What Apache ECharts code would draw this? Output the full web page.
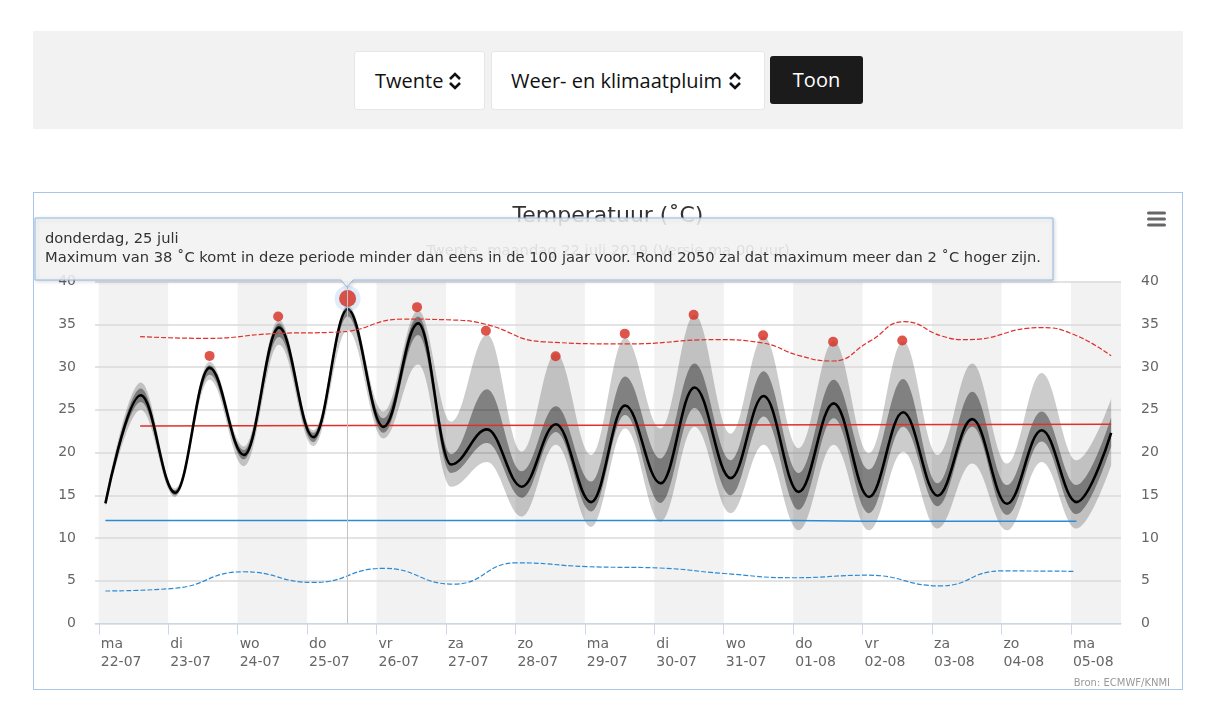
<!DOCTYPE html>
<html><head><meta charset="utf-8">
<script src="https://cdn.jsdelivr.net/npm/echarts@6/dist/echarts.min.js"></script>
<style>
html,body{margin:0;padding:0;background:#fff;width:1214px;height:718px;overflow:hidden;font-family:"Open Sans",sans-serif}
#panel{position:absolute;left:33px;top:31px;width:1150px;height:98px;background:#f2f2f2}
.sel{position:absolute;top:20px;height:59px;background:#fff;border-radius:3px;box-sizing:border-box;border:1px solid #e6e6e6;font-size:20px;color:#111;line-height:57px;white-space:nowrap}
#s1{left:321px;width:131px;padding-left:20px}
#s2{left:458px;width:274px;padding-left:19px}
.chev{position:absolute;top:18px}
#btn{position:absolute;left:737px;top:25px;width:93px;height:48px;background:#1b1b1b;border-radius:3px;color:#fff;font-size:20px;text-align:center;line-height:47px}
#chart{position:absolute;left:33px;top:192px;width:1150px;height:498px;border:1px solid #a9c5eb;box-sizing:border-box}
</style>
</head><body>
<div id="panel">
  <div class="sel" id="s1">Twente<svg class="chev" style="left:92px" width="16" height="22" viewBox="0 0 16 22"><polyline points="3,9 8,4 13,9" fill="none" stroke="#111" stroke-width="2.6"/><polyline points="3,13 8,18 13,13" fill="none" stroke="#111" stroke-width="2.6"/></svg></div>
  <div class="sel" id="s2">Weer- en klimaatpluim<svg class="chev" style="left:235px" width="16" height="22" viewBox="0 0 16 22"><polyline points="3,9 8,4 13,9" fill="none" stroke="#111" stroke-width="2.6"/><polyline points="3,13 8,18 13,13" fill="none" stroke="#111" stroke-width="2.6"/></svg></div>
  <div id="btn">Toon</div>
</div>
<div id="chart"></div>
<script>
// x values are hours after ma 22-07 00:00
const dayLabels = ['ma\n22-07','di\n23-07','wo\n24-07','do\n25-07','vr\n26-07','za\n27-07','zo\n28-07','ma\n29-07','di\n30-07','wo\n31-07','do\n01-08','vr\n02-08','za\n03-08','zo\n04-08','ma\n05-08'];
const shadedDays = [0,2,4,6,8,10,12,14];

const medT = [2.3,14.5,26.4,38.3,50.2,62.3,74.2,86.0,98.4,110.4,121.8,134.2,146.2,158.0,170.2,181.9,194.2,205.9,218.4,229.8,241.9,254.0,266.2,278.0,289.9,301.9,313.9,325.9,337.9,349.9];
const median = [14.05,26.7,15.3,29.9,19.7,34.6,21.8,36.75,23.0,35.1,18.6,22.7,16.0,23.3,14.2,25.5,16.4,27.6,17.0,26.6,15.4,25.75,14.8,24.7,14.95,23.9,14.0,22.6,14.2,22.3];
const darkLow = [13.8,25.9,15.0,29.1,19.2,33.5,21.2,35.9,22.3,33.75,17.6,21.1,14.7,22.4,13.1,24.4,14.1,25.2,15.0,24.2,13.3,24.0,12.9,23.0,13.7,23.0,12.7,21.3,12.8,20.7];
const darkHigh = [14.3,27.5,15.6,30.2,20.3,35.1,22.3,37.0,24.0,35.9,19.8,27.4,17.8,25.4,16.6,28.9,19.3,30.4,19.1,29.5,17.6,28.5,18.0,28.6,16.4,27.1,16.2,24.8,16.2,24.1];
const lightLow = [13.6,25.0,14.8,28.5,18.4,32.6,20.75,34.3,21.65,30.3,16.0,18.9,12.5,20.9,11.3,22.8,11.9,23.0,12.9,20.9,10.9,20.9,10.9,20.1,11.1,18.7,10.9,18.9,11.1,18.5];
const lightHigh = [14.5,28.2,15.8,30.6,20.7,35.5,22.6,37.25,24.8,36.6,23.6,33.8,20.1,31.6,19.7,33.4,22.8,36.1,22.2,33.6,20.5,33.0,19.9,33.0,19.7,30.4,18.7,29.3,19.1,26.3];

const dotT = [38.3,62.0,86.0,110.0,133.8,157.9,181.8,205.6,229.6,253.8,277.7];
const dotV = [31.3,35.9,38.0,37.0,34.25,31.25,33.9,36.1,33.7,32.95,33.1];
const selectedDot = 2;

const rdT = [14.3,37.3,60.2,83.5,105.1,122.0,133.7,153.6,182.4,213.6,228.7,242.4,253.4,266.4,278.4,291.6,300.0,325.4,337.0,349.9];
const rdV = [33.55,33.35,33.9,34.1,35.6,35.5,35.0,32.95,32.7,33.2,32.85,31.3,30.7,33.0,35.3,33.6,33.2,34.6,33.8,31.3];

const bdT = [2.3,25.8,49.9,74.2,98.4,122.6,144.5,168.7,193.0,216.0,240.2,265.7,290.9,311.8,337.4];
const bdV = [3.8,4.1,6.05,4.8,6.45,4.6,7.1,6.65,6.5,5.85,5.35,5.65,4.4,6.15,6.1];

const rsT = [14.3,86.0,182.0,254.0,349.9];
const rsV = [23.1,23.15,23.2,23.25,23.3];
const bsT = [2.3,240.0,265.0,337.9];
const bsV = [12.05,12.05,11.95,11.95];

const X_MIN = -1.3, X_MAX = 353.3;
const FONT = 'DejaVu Sans';
const RED = '#d42a1e', BLUE = '#2b8ad3';

const zip = (t, v) => t.map((x, i) => [x, v[i]]);
// band data is given as [value, hour] so that the stack applies to the value dimension
const bandLow = lo => medT.map((x, i) => [lo[i], x]);
const bandDiff = (hi, lo) => medT.map((x, i) => [+(hi[i] - lo[i]).toFixed(3), x]);
const dayTicks = dayLabels.map((_, i) => i * 24);

const chart = echarts.init(document.getElementById('chart'), null, {renderer: 'canvas'});
const bandCommon = () => ({type: 'line', symbol: 'none', smooth: 0.38, smoothMonotone: 'x', silent: true,
  encode: {x: 1, y: 0}, lineStyle: {opacity: 0, width: 0}});

chart.setOption({
  animation: false,
  textStyle: {fontFamily: FONT},
  title: [
    {text: 'Temperatuur (˚C)', left: 'center', top: 7, textStyle: {fontSize: 22, fontWeight: 'normal', color: '#333', fontFamily: FONT}},
    {text: 'Twente, maandag 22 juli 2019 (Versie ma 00 uur)', left: 'center', top: 46, textStyle: {fontSize: 14.7, fontWeight: 'normal', color: '#666', fontFamily: FONT}}
  ],
  grid: {left: 61, right: 61, top: 88.5, bottom: 65.5},
  xAxis: {
    type: 'value', min: X_MIN, max: X_MAX,
    axisLine: {lineStyle: {color: '#ccd6eb'}},
    axisTick: {customValues: dayTicks, length: 11, lineStyle: {color: '#ccd6eb'}},
    axisLabel: {customValues: dayTicks, formatter: v => dayLabels[Math.round(v / 24)], align: 'left', verticalAlign: 'top', margin: 12, lineHeight: 18, fontSize: 14, color: '#666', padding: [0, 0, 0, 2], fontFamily: FONT},
    splitLine: {show: false}
  },
  yAxis: [
    {type: 'value', min: 0, max: 40, interval: 5, position: 'left',
     axisLine: {show: false}, axisTick: {show: false},
     axisLabel: {margin: 19, fontSize: 14, color: '#666', fontFamily: FONT},
     splitLine: {lineStyle: {color: '#dadada', width: 1.6}}},
    {type: 'value', min: 0, max: 40, interval: 5, position: 'right',
     axisLine: {show: false}, axisTick: {show: false},
     axisLabel: {margin: 20, fontSize: 14, color: '#666', fontFamily: FONT},
     splitLine: {show: false}}
  ],
  series: [
    {type: 'line', data: [], silent: true, z: -1,
     markArea: {silent: true, z: -1, itemStyle: {color: '#f2f2f2'},
       data: shadedDays.map(d => [{xAxis: Math.max(d * 24, X_MIN)}, {xAxis: Math.min(d * 24 + 24, X_MAX)}])}},
    {type: 'line', data: zip(rsT, rsV), symbol: 'none', silent: true, lineStyle: {color: '#e0302a', width: 1.5}},
    {type: 'line', data: zip(bsT, bsV), symbol: 'none', silent: true, lineStyle: {color: BLUE, width: 1.5}},
    Object.assign(bandCommon(), {stack: 'light', data: bandLow(lightLow)}),
    Object.assign(bandCommon(), {stack: 'light', data: bandDiff(lightHigh, lightLow), areaStyle: {color: 'rgba(0,0,0,0.2)', opacity: 1}}),
    Object.assign(bandCommon(), {stack: 'dark', data: bandLow(darkLow)}),
    Object.assign(bandCommon(), {stack: 'dark', data: bandDiff(darkHigh, darkLow), areaStyle: {color: 'rgba(0,0,0,0.37)', opacity: 1}}),
    {type: 'line', data: zip(medT, median), symbol: 'none', smooth: 0.38, smoothMonotone: 'x', silent: true, lineStyle: {color: '#000', width: 2.6}},
    {type: 'line', data: zip(rdT, rdV), symbol: 'none', smooth: 0.5, silent: true, lineStyle: {color: '#e0302a', width: 1.2, type: [5, 2]}},
    {type: 'line', data: zip(bdT, bdV), symbol: 'none', smooth: 0.5, silent: true, lineStyle: {color: BLUE, width: 1.2, type: [5, 2]}},
    {type: 'scatter', silent: true, symbolSize: 26, z: 3, itemStyle: {color: 'rgba(124,181,236,0.3)'},
     data: [[dotT[selectedDot], dotV[selectedDot]]]},
    {type: 'scatter', silent: true, symbolSize: 10, z: 4, itemStyle: {color: RED},
     data: dotT.map((t, i) => i === selectedDot ? {value: [t, dotV[i]], symbolSize: 17} : [t, dotV[i]]),
     markLine: {silent: true, symbol: 'none', label: {show: false}, lineStyle: {color: '#c4c4c4', width: 1, type: 'solid'},
       data: [{xAxis: dotT[selectedDot]}]}}
  ],
  graphic: {
    z: 100,
    elements: [
      {type: 'polygon', z: 100, shape: {points: [[1,25],[1019,25],[1019,87],[319,87],[313,94],[307,87],[1,87]]},
       style: {fill: 'rgba(247,247,247,0.85)', stroke: '#90b8e6', lineWidth: 1, shadowBlur: 4, shadowColor: 'rgba(0,0,0,0.18)', shadowOffsetX: 1, shadowOffsetY: 1}},
      {type: 'text', z: 101, x: 11, y: 37, style: {text: 'donderdag, 25 juli\nMaximum van 38 ˚C komt in deze periode minder dan eens in de 100 jaar voor. Rond 2050 zal dat maximum meer dan 2 ˚C hoger zijn.', font: '14.7px "DejaVu Sans"', lineHeight: 19, fill: '#333', verticalAlign: 'top'}},
      {type: 'rect', z: 100, shape: {x: 1113, y: 18.5, width: 19, height: 3, r: 1.5}, style: {fill: '#666'}},
      {type: 'rect', z: 100, shape: {x: 1113, y: 24.5, width: 19, height: 3, r: 1.5}, style: {fill: '#666'}},
      {type: 'rect', z: 100, shape: {x: 1113, y: 30.5, width: 19, height: 3, r: 1.5}, style: {fill: '#666'}},
      {type: 'text', z: 100, x: 1136, y: 490, style: {text: 'Bron: ECMWF/KNMI', font: '10px "DejaVu Sans"', fill: '#999', align: 'right', verticalAlign: 'middle'}}
    ]
  }
});
</script>
</body></html>
